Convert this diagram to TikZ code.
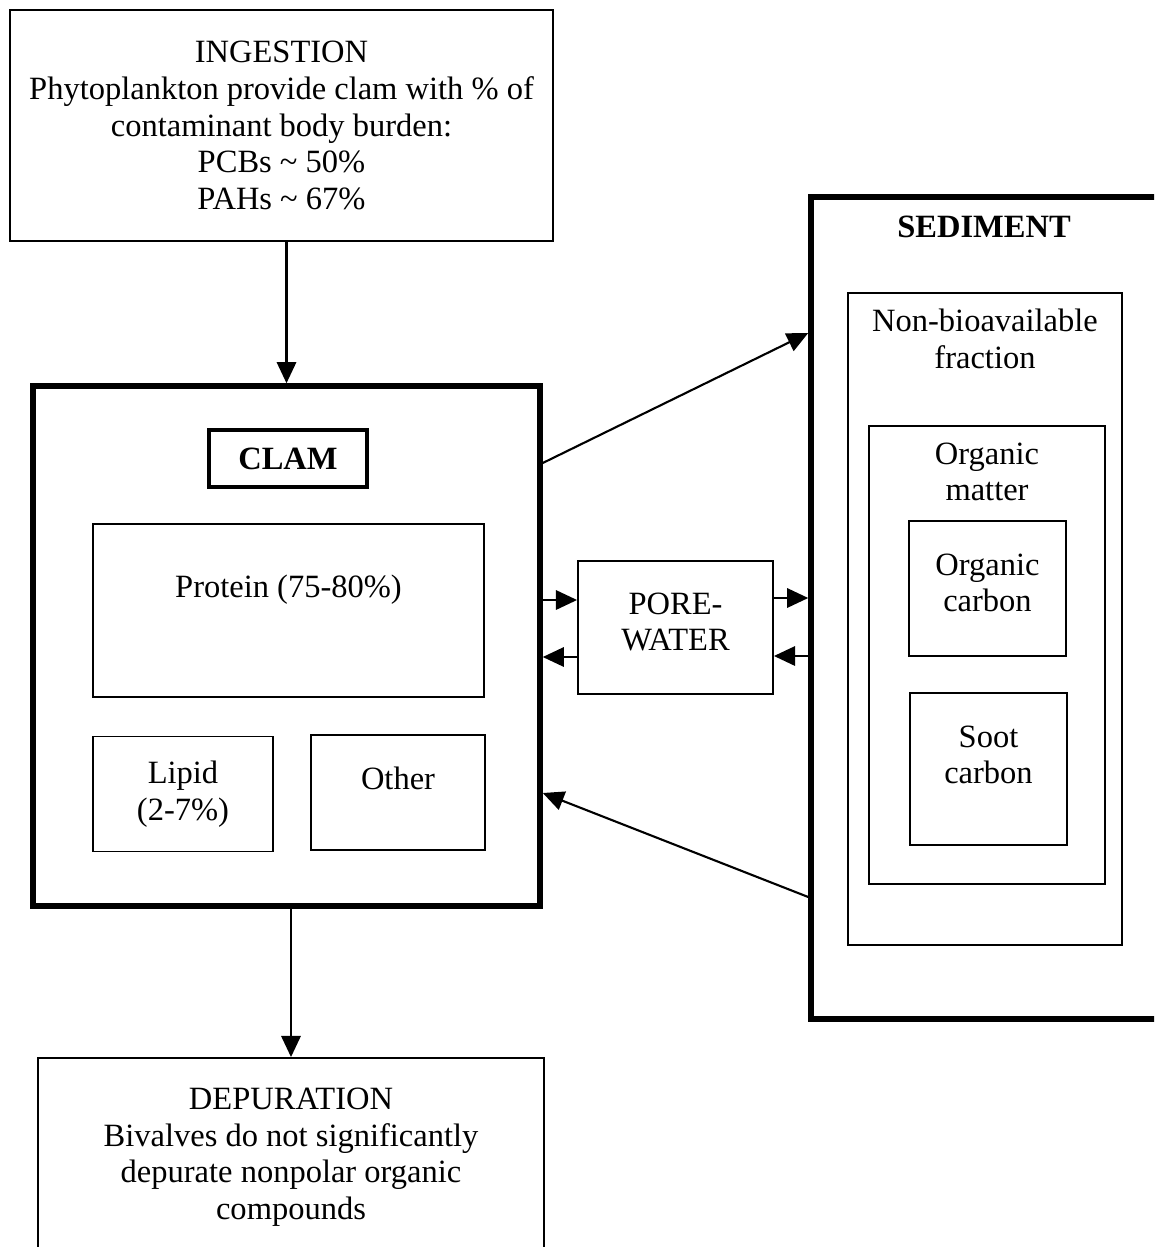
\documentclass[tikz,border=0pt]{standalone}
\usepackage{fontspec}
\setmainfont{Liberation Serif}
\usetikzlibrary{arrows.meta}
\begin{document}
\begin{tikzpicture}[x=0.02cm,y=-0.02cm,
  font=\fontsize{18.5}{20.8}\selectfont,
  box/.style={draw,line width=1.1pt,align=center,inner sep=0pt},
  bigbox/.style={draw,line width=3.2pt,inner sep=0pt},
  txt/.style={align=center,inner sep=0pt},
  flow/.style={line width=1.2pt,-{Triangle[length=12pt,width=11pt]}}]
\useasboundingbox (0,0) rectangle (1154,1247);
\clip (0,0) rectangle (1154,1247);
\node[box,minimum width=10.86cm,minimum height=4.62cm] (ing) at (281.5,125.5)
  {INGESTION\\Phytoplankton provide clam with \% of\\contaminant body burden:\\PCBs \textasciitilde{} 50\%\\PAHs \textasciitilde{} 67\%};
\node[bigbox,minimum width=10.14cm,minimum height=10.4cm] (clam) at (286.5,646) {};
\node[box,line width=1.8pt,minimum width=3.16cm,minimum height=1.14cm] (clamlbl) at (288,458.5) {\textbf{CLAM}};
\node[box,minimum width=7.82cm,minimum height=3.46cm] (prot) at (288.5,610.5) {};
\node[txt] (prottxt) at (288.5,590) {Protein (75-80\%)};
\node[box,minimum width=3.6cm,minimum height=2.3cm] (lipid) at (183,794) {Lipid\\(2-7\%)};
\node[box,minimum width=3.48cm,minimum height=2.3cm] (other) at (398,792.5) {};
\node[txt] (othertxt) at (398,778) {Other};
\node[box,minimum width=3.9cm,minimum height=2.66cm] (pore) at (675.5,627.5) {};
\node[txt] (poretxt) at (675.5,622) {PORE-\\WATER};
\node[bigbox,minimum width=7.28cm,minimum height=16.44cm] (sed) at (993,608) {};
\node[txt] (sedtxt) at (984,227) {\textbf{SEDIMENT}};
\node[box,minimum width=5.48cm,minimum height=13.04cm] (nb) at (985,619) {};
\node[txt] (nbtxt) at (985,339) {Non-bioavailable\\fraction};
\node[box,minimum width=4.72cm,minimum height=9.16cm] (om) at (987,655) {};
\node[txt] (omtxt) at (987,472) {Organic\\matter};
\node[box,minimum width=3.14cm,minimum height=2.7cm] (oc) at (987.5,588.5) {};
\node[txt] (octxt) at (987.5,583) {Organic\\carbon};
\node[box,minimum width=3.14cm,minimum height=3.04cm] (soot) at (988.5,769) {};
\node[txt] (soottxt) at (988.5,755) {Soot\\carbon};
\node[box,minimum width=10.12cm,minimum height=4.24cm] (dep) at (291,1164) {};
\node[txt] (deptxt) at (291,1157)
  {DEPURATION\\Bivalves do not significantly\\depurate nonpolar organic\\compounds};
\draw[flow] (clam.north |- ing.south) -- (clam.north);
\draw[flow] (dep.north |- clam.south) -- (dep.north);
\draw[flow] (clam.east |- 0,463) -- (sed.west |- 0,333);
\draw[flow] (sed.west |- 0,897) -- (clam.east |- 0,793);
\draw[flow] (clam.east |- 0,600) -- (pore.west |- 0,600);
\draw[flow] (pore.west |- 0,657) -- (clam.east |- 0,657);
\draw[flow] (pore.east |- 0,598) -- (sed.west |- 0,598);
\draw[flow] (sed.west |- 0,656) -- (pore.east |- 0,656);
\end{tikzpicture}
\end{document}
